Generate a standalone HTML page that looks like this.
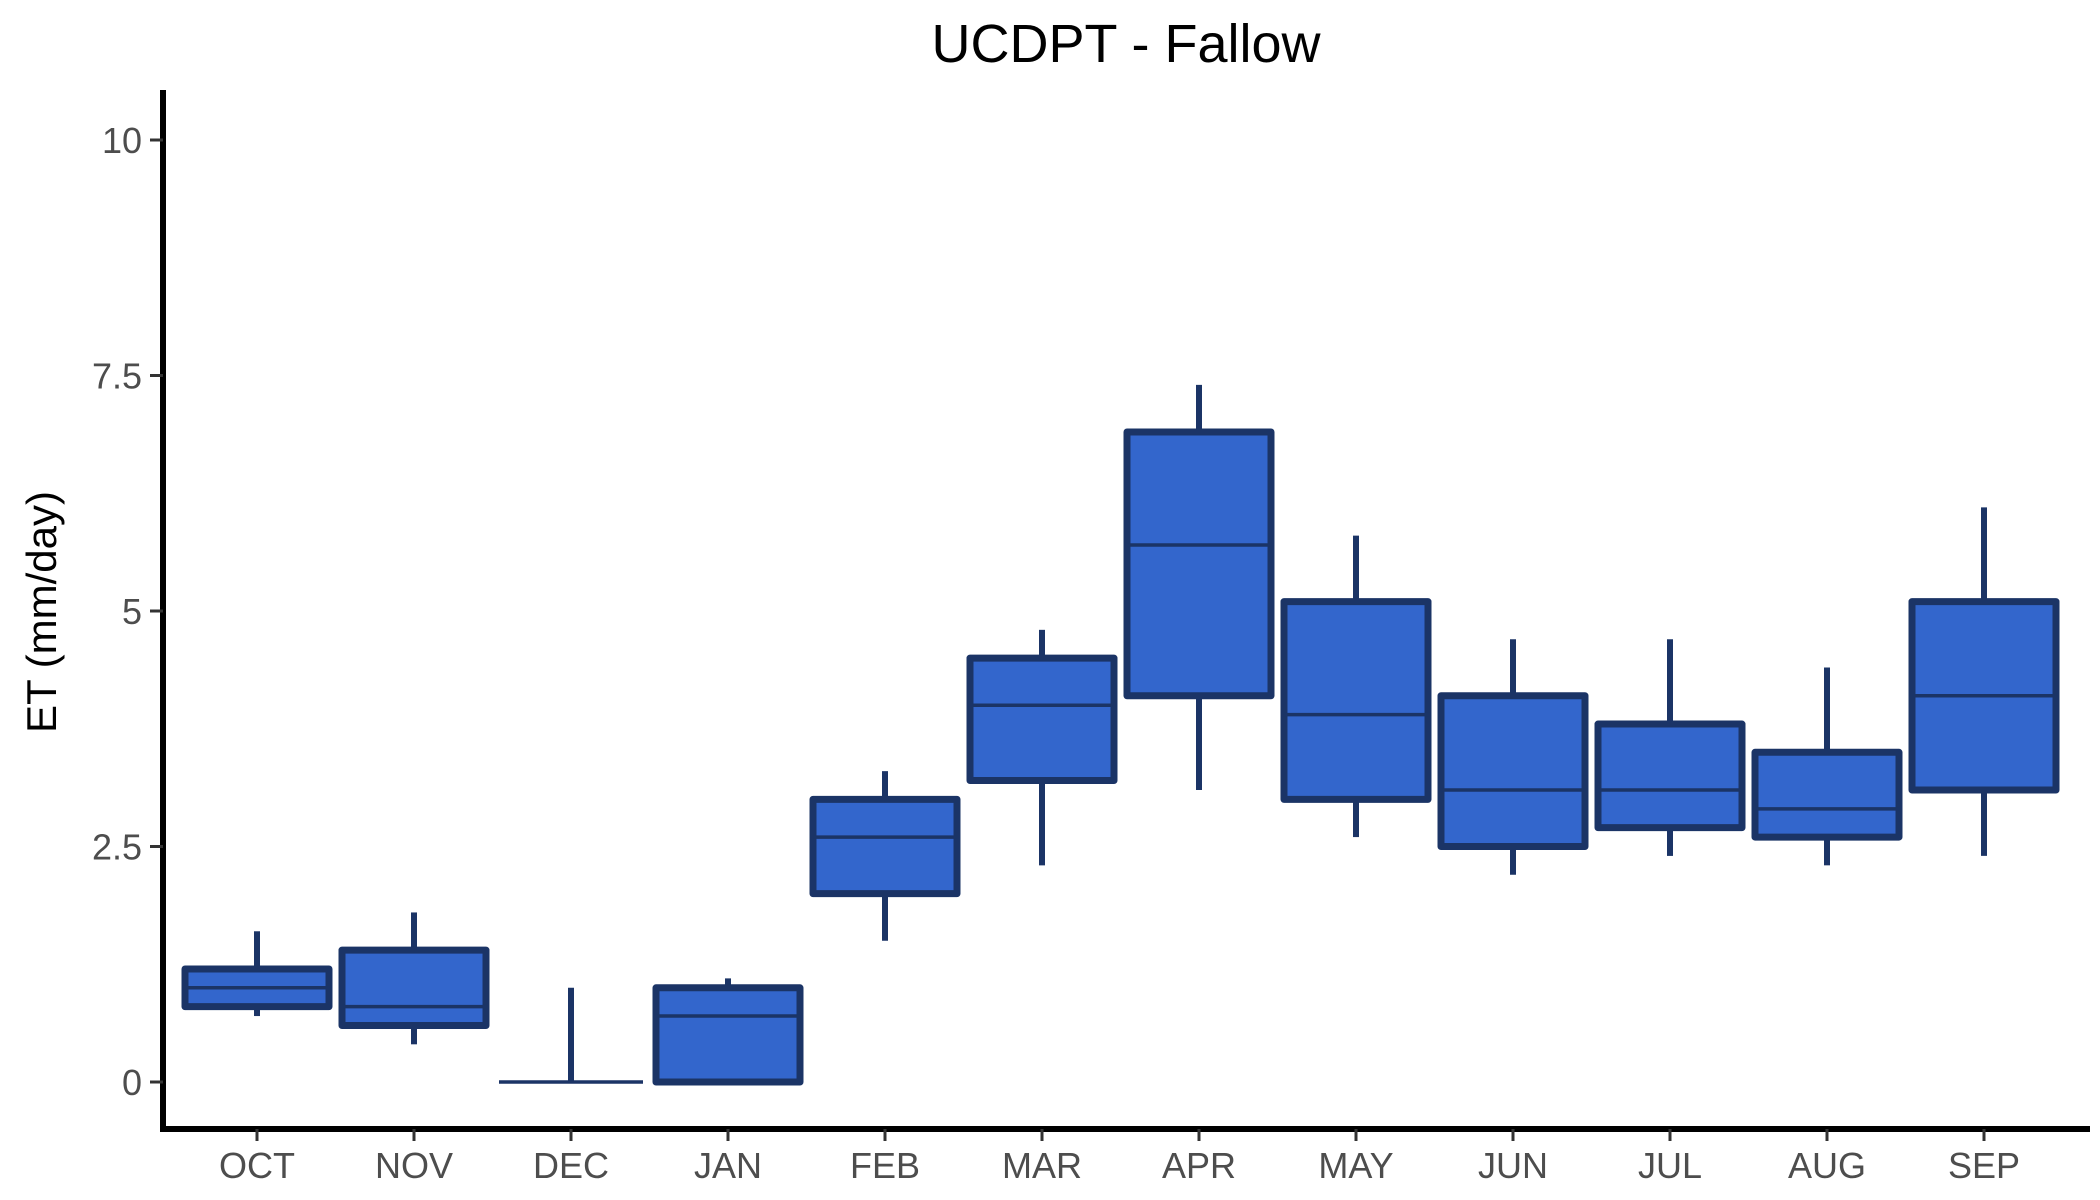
<!DOCTYPE html>
<html><head><meta charset="utf-8"><style>html,body{margin:0;padding:0;background:#fff}svg{display:block}</style></head>
<body>
<svg id="chart" width="2100" height="1200" viewBox="0 0 2100 1200" xmlns="http://www.w3.org/2000/svg" font-family="Liberation Sans, Arial, sans-serif">
<text x="1126" y="62" font-size="54" text-anchor="middle" fill="#000">UCDPT - Fallow</text>
<text transform="translate(56,612) rotate(-90)" font-size="42" text-anchor="middle" fill="#000">ET (mm/day)</text>
<g id="marks"></g>
<line x1="163" y1="90" x2="163" y2="1132" stroke="#000" stroke-width="6"/>
<line x1="160" y1="1129" x2="2090" y2="1129" stroke="#000" stroke-width="6"/>
<g id="axes"></g>
</svg>
<script>
const months = ["OCT","NOV","DEC","JAN","FEB","MAR","APR","MAY","JUN","JUL","AUG","SEP"];
const lowWhisker = [0.7,0.4,0,0,1.5,2.3,3.1,2.6,2.2,2.4,2.3,2.4];
const q1 = [0.8,0.6,0,0,2.0,3.2,4.1,3.0,2.5,2.7,2.6,3.1];
const median = [1.0,0.8,0,0.7,2.6,4.0,5.7,3.9,3.1,3.1,2.9,4.1];
const q3 = [1.2,1.4,0,1.0,3.0,4.5,6.9,5.1,4.1,3.8,3.5,5.1];
const highWhisker = [1.6,1.8,1.0,1.1,3.3,4.8,7.4,5.8,4.7,4.7,4.4,6.1];
const yTicks = [0,2.5,5,7.5,10];
const yTickLabels = ["0","2.5","5","7.5","10"];

const NS="http://www.w3.org/2000/svg";
const y = v => 1082 - v*94.2;
const x = i => 257 + i*157.0;
const bw = 144;
function mk(tag, attrs, parent){const e=document.createElementNS(NS,tag);for(const k in attrs)e.setAttribute(k,attrs[k]);parent.appendChild(e);return e;}
const marks=document.getElementById('marks'), axes=document.getElementById('axes');
const stroke="#1b3466";
months.forEach((m,i)=>{
  const g=mk('g',{},marks);
  
  
  const cx=x(i);
  const w1=mk('line',{x1:cx,x2:cx,y1:y(q3[i]),y2:y(highWhisker[i]),stroke:stroke,'stroke-width':6},g);
  
  
  const w2=mk('line',{x1:cx,x2:cx,y1:y(q1[i]),y2:y(lowWhisker[i]),stroke:stroke,'stroke-width':6},g);
  
  
  const r=mk('rect',{x:cx-bw/2,y:y(q3[i]),width:bw,height:Math.max(0,y(q1[i])-y(q3[i])),fill:'#3366cc',stroke:stroke,'stroke-width':7,'stroke-linejoin':'round'},g);
  
  
  const md=mk('line',{x1:cx-bw/2,x2:cx+bw/2,y1:y(median[i]),y2:y(median[i]),stroke:stroke,'stroke-width':3.5},g);
  
  
  const t=mk('line',{x1:cx,x2:cx,y1:1129,y2:1141,stroke:'#333','stroke-width':3},axes);
  
  
  const lb=mk('text',{x:cx,y:1178,'font-size':36,'text-anchor':'middle',fill:'#4d4d4d'},axes);
  lb.textContent=m;
  
  
});
yTicks.forEach((v,i)=>{
  const t=mk('line',{x1:150,x2:163,y1:y(v),y2:y(v),stroke:'#333','stroke-width':3},axes);
  
  
  const lb=mk('text',{x:142,y:y(v)+13,'font-size':36,'text-anchor':'end',fill:'#4d4d4d'},axes);
  lb.textContent=yTickLabels[i];
  
  
});
</script>
</body></html>
